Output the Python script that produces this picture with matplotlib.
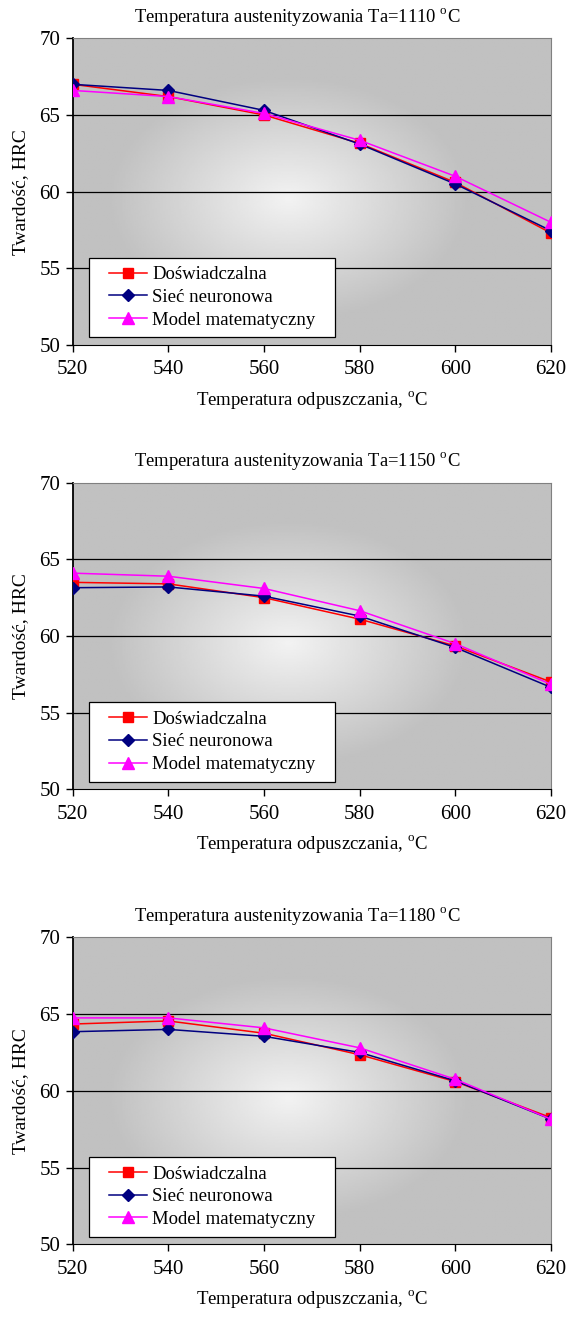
import matplotlib
matplotlib.use('Agg')
import matplotlib.pyplot as plt
from matplotlib.patches import Rectangle
import numpy as np

plt.rcParams['font.family'] = ['Liberation Serif', 'DejaVu Serif']
plt.rcParams['mathtext.fontset'] = 'custom'
plt.rcParams['mathtext.rm'] = 'Liberation Serif'

# temperatura odpuszczania
temp = [520, 540, 560, 580, 600, 620]

# Ta = 1110
exp_1110 = [67.0, 66.2, 65.0, 63.15, 60.6, 57.3]
nn_1110 = [67.0, 66.6, 65.3, 63.1, 60.5, 57.45]
mod_1110 = [66.6, 66.2, 65.1, 63.35, 61.0, 58.0]

# Ta = 1150
exp_1150 = [63.5, 63.4, 62.5, 61.1, 59.35, 57.0]
nn_1150 = [63.15, 63.2, 62.6, 61.3, 59.25, 56.65]
mod_1150 = [64.1, 63.9, 63.1, 61.65, 59.5, 56.85]

# Ta = 1180
exp_1180 = [64.35, 64.55, 63.75, 62.35, 60.6, 58.25]
nn_1180 = [63.85, 64.0, 63.55, 62.5, 60.65, 58.15]
mod_1180 = [64.75, 64.75, 64.1, 62.8, 60.75, 58.15]

ta_values = [1110, 1150, 1180]
exp_all = [exp_1110, exp_1150, exp_1180]
nn_all = [nn_1110, nn_1150, nn_1180]
mod_all = [mod_1110, mod_1150, mod_1180]

labels = ['Doświadczalna', 'Sieć neuronowa', 'Model matematyczny']

W, H = 568, 1317
fig = plt.figure(figsize=(W / 100, H / 100), dpi=100)

# axes boxes in pixels: (left, top, right, bottom)
boxes = [(72.7, 38.3, 551, 345), (72.7, 482.7, 551, 789.3), (72.7, 937.3, 551, 1244.3)]

# radial gradient for background
gx, gy = np.meshgrid(np.linspace(-1, 1, 300), np.linspace(-1, 1, 200))
r = np.sqrt(((gx + 0.1) / 0.85) ** 2 + ((gy - 0.05) / 0.9) ** 2)
grad = np.clip(0.95 - 0.22 * r, 0.755, 0.95)

for i, (l, t, rr, b) in enumerate(boxes):
    ax = fig.add_axes([l / W, 1 - b / H, (rr - l) / W, (b - t) / H])
    ax.imshow(grad, cmap='gray', vmin=0, vmax=1, extent=[520, 620, 50, 70],
              aspect='auto', zorder=0, interpolation='bilinear')
    for yv in [55, 60, 65]:
        ax.axhline(yv, color='black', lw=0.9, zorder=1)
    ax.plot(temp, exp_all[i], color='red', marker='s', ms=7, lw=1.1,
            label=labels[0], zorder=3)
    ax.plot(temp, nn_all[i], color='#000080', marker='D', ms=6, lw=1.1,
            label=labels[1], zorder=4)
    ax.plot(temp, mod_all[i], color='magenta', marker='^', ms=8, lw=1.1,
            label=labels[2], zorder=5)
    ax.set_xlim(520, 620)
    ax.set_ylim(50, 70)
    ax.set_xticks(temp)
    ax.set_yticks([50, 55, 60, 65, 70])
    ax.tick_params(labelsize=15, length=5, width=1, direction='out')
    ax.tick_params(axis='x', pad=6)
    ax.tick_params(axis='y', pad=4)
    ax.spines['left'].set_color('black')
    ax.spines['left'].set_linewidth(1.3)
    ax.spines['bottom'].set_color('black')
    for s in ['top', 'right']:
        ax.spines[s].set_color('#808080')
    ttl = ax.set_title('Temperatura austenityzowania Ta=%d $^{\\rm o}$C' % ta_values[i],
                       fontsize=13.4, pad=12)
    ttl.set_x(0.469)
    ax.set_xlabel('Temperatura odpuszczania, $^{\\rm o}$C', fontsize=13.5, labelpad=7)
    ax.set_ylabel('Twardość, HRC', fontsize=14, labelpad=7)

    # legend box
    ax.add_patch(Rectangle((0.035, 0.025), 0.514, 0.26, transform=ax.transAxes,
                           facecolor='white', edgecolor='black', lw=0.9, zorder=6))
    leg = ax.legend(loc='center', bbox_to_anchor=(0.292, 0.155), fontsize=13.5,
                    frameon=False, handlelength=2.0, borderpad=0.2,
                    labelspacing=0.3, handletextpad=0.3, borderaxespad=0)
    leg.set_zorder(7)

fig.savefig('out.png', dpi=100)
